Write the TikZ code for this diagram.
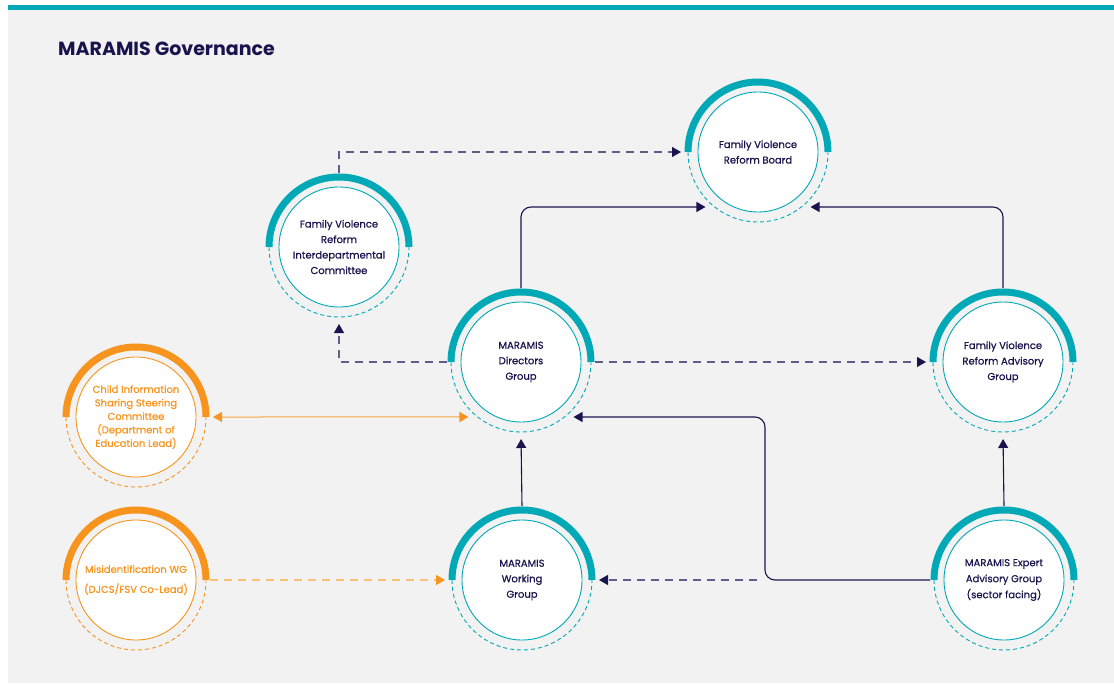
\documentclass[tikz,border=0pt]{standalone}
\usepackage{fontspec}
\setmainfont{Poppins}
\newfontfamily\nodefont{Poppins}[FakeBold=0.6]
\usetikzlibrary{arrows.meta, positioning}
\definecolor{ringteal}{RGB}{0,169,181}
\definecolor{ringorange}{RGB}{247,148,29}
\definecolor{navy}{RGB}{26,20,78}
\definecolor{dashnavy}{RGB}{98,92,140}
\definecolor{panelgray}{RGB}{242,242,242}

\begin{document}
\begin{tikzpicture}[x=1pt, y=1pt,
        group/.style={circle, draw=ringteal, fill=white, line width=0.9pt, minimum size=120pt, inner sep=0pt, outer sep=14pt, align=center, text=navy, font=\nodefont\fontsize{10}{15.5}\selectfont},
        orangegroup/.style={group, draw=ringorange, text=ringorange},
        link/.style={draw=navy, line width=1.1pt, rounded corners=10pt, -{Triangle[length=9pt, width=10pt]}, shorten >=3pt},
        dashlink/.style={draw=dashnavy, line width=1.1pt, dash pattern=on 8pt off 6pt, -{Triangle[length=9pt, width=10pt, color=navy]}, shorten >=3pt},
        orangelink/.style={draw=ringorange!85, line width=1pt, {Triangle[length=9pt, width=10pt, color=ringorange]}-{Triangle[length=9pt, width=10pt, color=ringorange]}, shorten >=3pt, shorten <=3pt},
        orangedash/.style={draw=ringorange!60, line width=1.1pt, dash pattern=on 8pt off 6pt, -{Triangle[length=9pt, width=10pt, color=ringorange]}, shorten >=3pt}
        ]

        % Page
        \fill[white] (0,0) rectangle (1114,-687);
        \fill[panelgray] (8,-10) rectangle (1114,-683);
        \fill[ringteal] (8,-5) rectangle (1114,-10.5);
        \useasboundingbox (0,0) rectangle (1114,-687);

        \node[anchor=base west, inner sep=0pt, text=navy, font=\fontsize{19}{19}\selectfont\bfseries] (title) at (58,-56) {MARAMIS Governance};

        % Groups
        \node (board) [group] at (758,-152) {Family Violence\\Reform Board};
        \node (idc) [group] at (339,-247) {Family Violence\\Reform\\Interdepartmental\\Committee};
        \node (dir) [group] at (521,-362) {MARAMIS\\Directors\\Group};
        \node (adv) [group] at (1003,-362) {Family Violence\\Reform Advisory\\Group};
        \node (child) [orangegroup, font=\nodefont\fontsize{10}{13.5}\selectfont] at (136,-417) {Child Information\\Sharing Steering\\Committee\\(Department of\\Education Lead)};
        \node (mis) [orangegroup, font=\nodefont\fontsize{10}{20}\selectfont] at (136,-580) {Misidentification WG\\(DJCS/FSV Co-Lead)};
        \node (work) [group] at (522,-580) {MARAMIS\\Working\\Group};
        \node (exp) [group, font=\nodefont\fontsize{10}{16}\selectfont] at (1004,-580) {MARAMIS Expert\\Advisory Group\\(sector facing)};

        % Rings
        \foreach \n/\c in {board/ringteal, idc/ringteal, dir/ringteal, adv/ringteal, work/ringteal, exp/ringteal, child/ringorange, mis/ringorange} {
            \draw[\c, line width=7pt] ([xshift=-70pt]\n.center) arc (180:0:70);
            \draw[\c, line width=0.9pt, dash pattern=on 4pt off 3pt] ([xshift=-70pt]\n.center) arc (180:360:70);
        }

        % Connectors
        \coordinate (bend) at (765,-580);
        \draw [dashlink] (idc.north) |- (board.west);
        \draw [link] (dir.north) |- (board.228);
        \draw [link] (adv.north) |- (board.312);
        \draw [dashlink] (dir.west) -| (idc.south);
        \draw [dashlink] (dir.east) -- (adv.west);
        \draw [orangelink] (child.east) -- (dir.228);
        \draw [orangedash] (mis.east) -- (work.west);
        \draw [link] (work.north) -- (dir.south);
        \draw [link] (exp.west) -- (bend) |- (dir.312);
        \draw [link] (exp.north) -- (adv.south);
        \draw [dashlink] ([xshift=-8pt]bend) -- (work.east);

    \end{tikzpicture}
\end{document}
